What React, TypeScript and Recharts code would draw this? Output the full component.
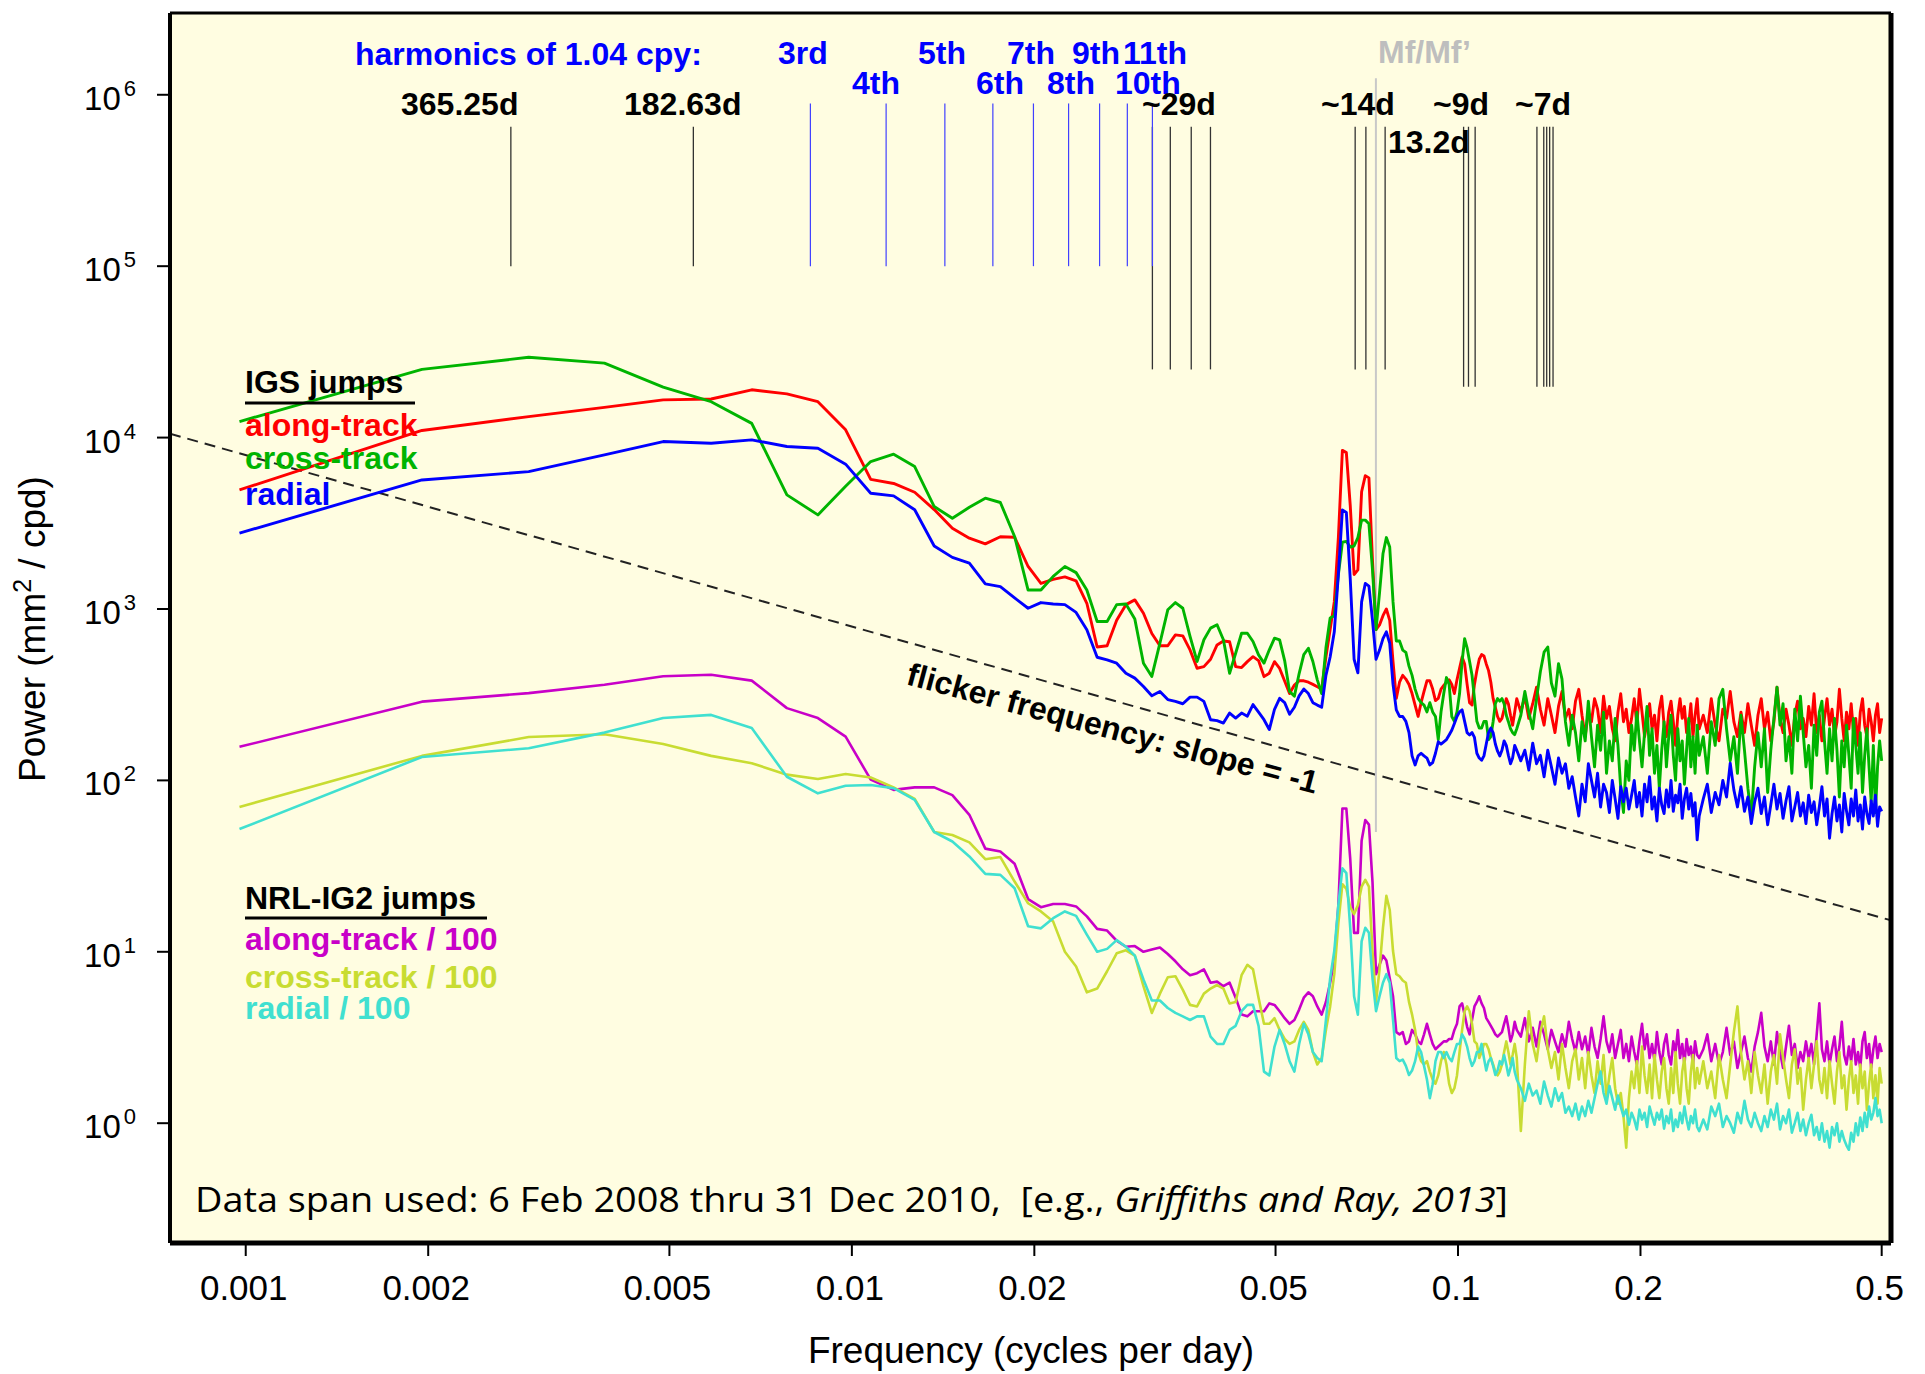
import { LineChart, Line, XAxis, YAxis, CartesianGrid, ReferenceLine } from "recharts";

const W = 1925;
const H = 1374;
const FONT = "'Liberation Sans', Arial, Helvetica, sans-serif";

// periodogram bins, f = k / 1024 cpd: every bin to 128, every 2nd to 256, every 4th to 512
const BINS: number[] = [];
for (let k = 1; k <= 128; k++) BINS.push(k);
for (let k = 130; k <= 256; k += 2) BINS.push(k);
for (let k = 260; k <= 512; k += 4) BINS.push(k);

// IGS jumps (mm^2/cpd)
const ALONG_IGS = [
  4950, 11000, 13250, 15000, 16600, 16800, 19000, 18000, 16200, 11100, 5700, 5400, 4800, 3800, 2960, 2590,
  2400, 2640, 2620, 1770, 1410, 1490, 1540, 1460, 1080, 600, 610, 860, 1060, 1130, 944, 720,
  610, 610, 706, 697, 577, 451, 461, 509, 617, 650, 644, 461, 455, 493, 527, 500,
  403, 422, 493, 450, 380, 321, 360, 381, 381, 374, 363, 352, 341, 525, 759, 1100,
  2610, 8420, 8170, 4020, 1590, 1690, 4830, 6000, 5820, 1910, 759, 807, 914, 1000, 859, 493,
  301, 374, 410, 390, 363, 321, 275, 236, 284, 331, 381, 381, 341, 292, 301, 341,
  358, 374, 386, 363, 321, 386, 450, 525, 478, 363, 284, 275, 363, 437, 509, 542,
  532, 478, 437, 374, 301, 267, 236, 221, 230, 260, 300, 280, 240, 210, 250, 300,
  250, 310, 230, 280, 350, 260, 210, 300, 240, 190, 270, 330, 230, 260, 200, 290,
  340, 240, 180, 250, 220, 300, 260, 190, 310, 230, 270, 200, 170, 250, 320, 220,
  260, 190, 230, 300, 210, 340, 250, 180, 220, 280, 200, 240, 170, 260, 310, 210,
  180, 250, 290, 220, 160, 240, 300, 230, 270, 190, 210, 280, 180, 240, 300, 200,
  240, 190, 300, 210, 170, 260, 230, 330, 220, 180, 250, 190, 280, 210, 160, 240,
  300, 200, 250, 170, 220, 350, 230, 190, 260, 210, 160, 240, 290, 200, 230, 180,
  270, 210, 320, 190, 240, 170, 230, 300, 210, 260, 180, 220, 340, 230, 170, 250,
  200, 280, 190, 230, 160, 250, 300, 210, 180, 260, 220, 170, 240, 280, 190, 230,
];
const CROSS_IGS = [
  12400, 25000, 29400, 27200, 19700, 16200, 12100, 4630, 3540, 5200, 7250, 8000, 6780, 3960, 3380, 3920,
  4430, 4180, 2650, 1290, 1290, 1550, 1770, 1630, 1290, 846, 846, 1060, 1070, 873, 483, 404,
  632, 989, 1090, 1010, 692, 494, 661, 773, 809, 661, 422, 552, 722, 722, 646, 540,
  483, 578, 676, 660, 500, 330, 310, 420, 542, 590, 494, 386, 321, 594, 887, 914,
  1590, 2450, 2480, 2300, 2330, 2610, 3300, 3300, 3140, 1690, 759, 1240, 2100, 2610, 2300, 1100,
  651, 651, 576, 558, 464, 410, 341, 301, 284, 275, 251, 284, 251, 236, 173, 251,
  321, 398, 363, 236, 221, 251, 321, 494, 671, 594, 494, 410, 301, 221, 202, 202,
  221, 221, 173, 180, 220, 280, 300, 290, 300, 280, 240, 220, 200, 190, 185, 200,
  240, 330, 250, 200, 300, 430, 560, 600, 370, 310, 480, 390, 220, 160, 240, 190,
  130, 220, 170, 290, 180, 120, 210, 150, 250, 110, 170, 130, 230, 160, 90, 65,
  130, 100, 210, 150, 250, 170, 120, 190, 270, 140, 200, 110, 160, 90, 150, 220,
  120, 180, 240, 140, 100, 200, 130, 170, 95, 150, 230, 120, 180, 110, 210, 140,
  180, 110, 220, 160, 300, 340, 200, 130, 180, 110, 240, 150, 90, 62, 120, 190,
  120, 200, 85, 150, 230, 350, 210, 280, 130, 180, 110, 260, 170, 310, 190, 120,
  160, 90, 210, 140, 250, 290, 170, 110, 200, 130, 230, 150, 80, 170, 120, 210,
  140, 90, 230, 160, 110, 190, 85, 140, 200, 120, 75, 160, 65, 120, 170, 130,
];
const RADIAL_IGS = [
  2770, 5660, 6330, 7920, 9480, 9270, 9700, 8870, 8670, 7000, 4730, 4570, 3790, 2330, 2000, 1850,
  1400, 1350, 1160, 1010, 1090, 1070, 1060, 955, 756, 523, 505, 483, 422, 395, 353, 312,
  330, 296, 289, 280, 306, 306, 289, 226, 223, 216, 247, 231, 247, 237, 277, 250,
  226, 198, 260, 301, 284, 243, 267, 311, 341, 321, 284, 275, 267, 410, 525, 736,
  1590, 3780, 3660, 1500, 509, 424, 1100, 1410, 1360, 859, 509, 576, 671, 736, 631, 363,
  258, 236, 236, 221, 190, 139, 123, 139, 144, 139, 135, 123, 127, 144, 168, 163,
  168, 173, 184, 196, 215, 236, 251, 258, 221, 190, 184, 190, 178, 144, 135, 131,
  139, 163, 190, 202, 190, 163, 148, 139, 150, 170, 160, 140, 125, 135, 160, 150,
  130, 150, 115, 165, 125, 140, 105, 150, 120, 95, 135, 110, 125, 90, 105, 80,
  62, 95, 75, 125, 100, 80, 110, 70, 95, 85, 65, 100, 78, 60, 92, 75,
  90, 68, 82, 100, 70, 85, 62, 95, 75, 105, 68, 80, 58, 90, 72, 64,
  88, 70, 100, 66, 82, 74, 95, 60, 78, 90, 68, 84, 62, 74, 45, 62,
  78, 95, 65, 85, 72, 100, 80, 126, 88, 70, 92, 66, 80, 56, 75, 90,
  64, 80, 55, 72, 95, 68, 84, 60, 76, 92, 58, 70, 85, 62, 74, 56,
  82, 65, 75, 55, 70, 92, 62, 78, 46, 64, 80, 58, 72, 50, 84, 66,
  55, 78, 62, 88, 58, 72, 52, 80, 64, 56, 76, 62, 82, 54, 70, 66,
];

// NRL-IG2 jumps, already divided by 100
const ALONG_NRL = [
  157, 288, 323, 361, 405, 413, 382, 264, 231, 180, 101, 88, 91, 91, 82, 63,
  40, 38.5, 32.6, 20.3, 18.2, 19, 19, 18.4, 16.1, 13.6, 13.3, 11.6, 10.7, 10.8, 10, 10.3,
  10.6, 9.7, 8.8, 7.9, 7.3, 7.5, 7.9, 6.6, 6.7, 6.3, 6.6, 5.4, 4.3, 4.2, 4.5, 4.5,
  4.5, 5, 4.9, 4.5, 4.1, 3.8, 4, 4.6, 5.4, 5.8, 5.5, 4.8, 4.3, 5.1, 6.6, 8.9,
  18.7, 68.5, 68.5, 34.8, 12.9, 12.9, 44.5, 58.7, 55.2, 25.5, 7.4, 8.4, 9.5, 8.9, 7, 5.5,
  3.4, 3.3, 3.4, 2.9, 3, 3.5, 3.3, 3, 2.9, 3.3, 3.8, 3.3, 2.9, 2.7, 2.8, 2.9,
  3, 3, 3.1, 3.1, 3.5, 3.8, 4.8, 5, 4.3, 3.65, 3.3, 4, 4.8, 5.1, 5.5, 5,
  4.7, 4.1, 3.9, 3.7, 3.5, 3.3, 3.2, 3.3, 3.4, 3.8, 4.2, 3.6, 3, 3.3, 3.9, 3.5,
  3.2, 4.1, 3.0, 3.6, 2.8, 3.9, 3.3, 2.7, 3.5, 3.0, 2.6, 3.3, 2.8, 3.9, 3.1, 2.6,
  3.4, 2.7, 3.2, 2.5, 3.6, 2.8, 2.4, 3.1, 4.2, 3.0, 2.6, 3.3, 2.4, 2.9, 3.5, 2.4,
  2.9, 2.3, 3.2, 2.6, 2.2, 3.0, 3.8, 2.7, 3.3, 2.4, 2.9, 2.3, 3.4, 2.6, 2.2, 2.9,
  3.3, 2.5, 2.2, 3.0, 2.6, 3.5, 2.4, 2.9, 2.2, 3.1, 2.5, 2.8, 2.2, 3.0, 2.5, 2.4,
  2.7, 3.3, 2.3, 2.9, 2.2, 2.6, 3.6, 2.5, 3.0, 2.1, 2.6, 3.2, 2.4, 2.0, 2.8, 3.4,
  4.4, 2.8, 2.3, 3.0, 2.2, 3.4, 2.6, 2.1, 2.8, 3.7, 2.5, 2.9, 2.1, 2.6, 2.3, 3.0,
  2.4, 2.9, 2.2, 3.3, 5.0, 2.7, 2.3, 3.0, 2.2, 2.7, 3.2, 2.3, 2.8, 3.9, 2.5, 2.2,
  2.8, 2.3, 3.1, 2.2, 2.6, 2.1, 3.0, 3.4, 2.4, 2.9, 2.1, 2.7, 3.2, 2.4, 2.9, 2.6,
];
const CROSS_NRL = [
  70, 139, 179, 186, 163, 139, 126, 108, 102, 109, 104, 91, 78, 50, 48, 43.5,
  34.7, 35.7, 25.7, 19.2, 17.2, 15, 10, 8.2, 5.8, 6.1, 7.7, 9.8, 10.2, 9.5, 6.3, 4.4,
  5.7, 7.1, 7.2, 6, 4.9, 4.8, 5.7, 6.1, 6.4, 6.1, 5, 5.1, 7.3, 8.4, 7.9, 5.4,
  3.8, 3.8, 4.1, 3.5, 3.1, 2.9, 3, 3.5, 3.9, 3.5, 2.6, 2.2, 2.4, 3.5, 4.8, 7.4,
  14.7, 24.8, 23.3, 18.2, 16.6, 18.7, 24, 26.3, 24, 10.1, 5.1, 7.9, 13.8, 21.2, 17.6, 10.1,
  7.4, 7.2, 6.8, 6.6, 5.1, 4.3, 3.5, 2.6, 2.3, 2.2, 2.3, 2, 1.8, 1.7, 1.9, 2.3,
  2.6, 2.2, 1.7, 1.5, 1.6, 1.9, 2.6, 3.5, 4.5, 4.8, 4.5, 3.8, 3, 2.9, 2.4, 2.6,
  2.9, 2.9, 2.7, 2.4, 2.2, 2, 1.9, 2, 2.2, 2.6, 3, 2.6, 2.2, 2.5, 2.9, 2.4,
  0.9, 2.2, 4.5, 2.9, 2.3, 3.4, 4.2, 2.7, 2.1, 2.6, 1.8, 2.9, 2.1, 1.6, 2.3, 2.7,
  1.8, 2.4, 1.6, 2.6, 1.9, 1.5, 2.3, 1.7, 2.5, 1.4, 1.9, 2.4, 1.6, 1.3, 1.5, 1.1,
  0.72, 1.4, 2.0, 1.6, 2.3, 1.5, 2.8, 1.9, 1.5, 2.2, 1.4, 2.5, 1.8, 1.4, 2.0, 2.4,
  1.6, 1.3, 2.1, 1.5, 2.6, 1.7, 1.3, 2.0, 2.4, 1.6, 1.3, 2.0, 2.5, 1.6, 2.1, 1.7,
  2.3, 1.6, 2.0, 1.4, 2.5, 1.8, 1.4, 2.2, 3.4, 4.8, 2.6, 1.8, 2.3, 1.5, 2.6, 1.9,
  1.5, 2.2, 1.3, 2.0, 2.5, 1.7, 3.3, 2.4, 1.8, 1.4, 2.2, 2.7, 1.7, 2.1, 1.2, 1.8,
  2.4, 1.6, 2.2, 3.0, 1.8, 1.5, 2.1, 1.4, 2.3, 1.7, 1.3, 2.0, 2.6, 1.6, 1.9, 1.2,
  1.8, 2.3, 1.5, 1.9, 1.3, 2.2, 1.6, 2.0, 1.2, 1.7, 2.2, 1.4, 1.9, 1.3, 2.1, 1.7,
];
const RADIAL_NRL = [
  52, 137, 154, 190, 231, 241, 202, 105, 84, 93, 94, 90, 77, 50, 44, 36,
  28.5, 28.1, 23.5, 14.1, 13.7, 15.7, 17.2, 16.2, 12.6, 10, 10.4, 11.7, 10.7, 9.5, 6.9, 5.2,
  5.2, 4.7, 4.4, 4.2, 4, 4.2, 4.2, 3.2, 2.9, 2.9, 3.5, 3.7, 4.5, 4.9, 4.9, 3.7,
  2, 1.9, 2.8, 3.5, 2.9, 2.3, 2, 2.9, 3.8, 3.3, 2.6, 2.4, 2.3, 4, 7, 10.1,
  18.7, 30.7, 28.8, 13.8, 5.5, 4.3, 11.5, 13.8, 12.9, 7, 4.5, 5.5, 6.6, 7.4, 6.6, 4,
  2.4, 2.3, 2.35, 2.16, 1.91, 2.03, 2.3, 2.8, 2.6, 2.16, 1.8, 1.4, 1.69, 2.3, 2.6, 2.6,
  2.4, 2.6, 2.4, 2.3, 2.6, 2.9, 2.9, 3.3, 3.1, 2.8, 2.4, 2.16, 2.3, 2.6, 2.6, 2.9,
  2.4, 2.03, 2.3, 2.4, 2.16, 1.91, 2.03, 2.3, 2.2, 2.5, 2.2, 1.9, 2.1, 2.4, 2, 1.8,
  1.6, 1.35, 1.7, 1.45, 1.55, 1.3, 1.75, 1.45, 1.25, 1.6, 1.35, 1.5, 1.15, 1.25, 1.1, 1.3,
  1.05, 1.25, 1.1, 1.35, 1.15, 1.4, 1.7, 2.0, 1.5, 1.3, 1.65, 1.4, 1.2, 1.45, 1.25, 1.1,
  1.2, 0.98, 1.15, 1.05, 0.92, 1.2, 1.05, 1.15, 0.95, 1.25, 1.1, 0.98, 1.15, 1.05, 1.2, 0.93,
  1.1, 1.0, 1.2, 0.9, 1.05, 0.95, 1.15, 1.0, 1.25, 1.05, 0.92, 1.1, 1.0, 1.2, 0.95, 0.9,
  1.05, 0.92, 1.25, 1.1, 1.3, 0.95, 1.1, 1.0, 0.88, 1.15, 1.0, 1.35, 1.05, 0.95, 1.15, 1.0,
  0.9, 1.1, 0.95, 1.2, 1.05, 1.3, 0.92, 1.1, 1.0, 1.2, 0.88, 1.0, 1.15, 0.9, 1.05, 0.85,
  1.0, 1.12, 0.85, 0.95, 0.8, 1.0, 0.78, 0.9, 0.72, 0.95, 0.85, 1.0, 0.78, 0.9, 0.8, 0.74,
  0.7, 0.88, 0.78, 1.0, 0.85, 1.08, 0.9, 1.15, 0.95, 1.25, 1.05, 1.15, 1.4, 1.1, 1.2, 1.0,
];

const X_TICKS = [0.001, 0.002, 0.005, 0.01, 0.02, 0.05, 0.1, 0.2, 0.5];
const Y_MAJOR = [1, 10, 100, 1e3, 1e4, 1e5, 1e6];
const Y_MINOR = [
  0.3, 0.4, 0.5, 0.6, 0.7, 0.8, 0.9, 2, 3, 4, 5, 6, 7, 8, 9, 20, 30, 40, 50, 60, 70, 80, 90,
  200, 300, 400, 500, 600, 700, 800, 900, 2e3, 3e3, 4e3, 5e3, 6e3, 7e3, 8e3, 9e3,
  2e4, 3e4, 4e4, 5e4, 6e4, 7e4, 8e4, 9e4, 2e5, 3e5, 4e5, 5e5, 6e5, 7e5, 8e5, 9e5, 2e6,
];

// marker periods (days)
const SOLAR_PERIODS = [365.25, 182.63];
const HARMONICS = [3, 4, 5, 6, 7, 8, 9, 10, 11]; // of 1.04 cpy
const DRACONITIC_CPY = 1.04;
const LUNAR_29 = [31.93, 29.83, 27.55, 25.61];
const LUNAR_14 = [14.78, 14.19, 13.19];
const LUNAR_9 = [9.79, 9.61, 9.37];
const LUNAR_7 = [7.41, 7.22, 7.14, 7.06, 6.97];
const MF_PERIOD = 13.66;
const FLICKER_LEVEL = 7.9; // P = 7.9 / f

const DATA = BINS.map((k, i) => ({
  f: k / 1024,
  along: ALONG_IGS[i],
  cross: CROSS_IGS[i],
  radial: RADIAL_IGS[i],
  along2: ALONG_NRL[i],
  cross2: CROSS_NRL[i],
  radial2: RADIAL_NRL[i],
}));

const X_DOMAIN = [0.00075, 0.518];
const Y_DOMAIN = [0.2, 3e6];

const PowerTick = (props: any) => {
  const { x, y, payload } = props;
  const exp = Math.round(Math.log10(payload.value));
  return (
    <text x={x - 19} y={y + 15} textAnchor="end" fontFamily={FONT} fontSize={33} fill="#000">
      10
      <tspan dx={3} dy={-14} fontSize={22}>
        {exp}
      </tspan>
    </text>
  );
};

const FreqTick = (props: any) => {
  const { x, y, payload } = props;
  return (
    <text x={x - 2} y={y + 42} textAnchor="middle" fontFamily={FONT} fontSize={35} fill="#000">
      {String(payload.value)}
    </text>
  );
};

const seg = (f: number, lo: number, hi: number) => [
  { x: f, y: lo },
  { x: f, y: hi },
];

const Label = ({ x, y, color = "#000", children }: any) => (
  <text x={x} y={y} fontFamily={FONT} fontWeight="bold" fontSize={32} fill={color}>
    {children}
  </text>
);

const App = () => {
  const lineProps = {
    xAxisId: "f",
    yAxisId: "p",
    type: "linear" as const,
    dot: false,
    activeDot: false,
    isAnimationActive: false,
    strokeLinejoin: "round" as const,
  };
  const refProps = { xAxisId: "f", yAxisId: "p", ifOverflow: "hidden" as const };
  return (
    <div style={{ position: "absolute", left: 0, top: 0, width: W, height: H, background: "#fff" }}>
      <LineChart width={W} height={H} data={DATA} margin={{ top: 12, right: 32, bottom: 130, left: 168 }}>
        <CartesianGrid xAxisId="f" yAxisId="p" horizontal={false} vertical={false} fill="#FFFDE1" fillOpacity={1} />
        <XAxis
          xAxisId="f"
          dataKey="f"
          type="number"
          scale="log"
          domain={X_DOMAIN}
          allowDataOverflow
          ticks={X_TICKS}
          interval={0}
          height={1}
          tickSize={13}
          tick={FreqTick}
          tickLine={{ stroke: "#000", strokeWidth: 2 }}
          axisLine={{ stroke: "#000", strokeWidth: 5 }}
        />
        <XAxis
          xAxisId="top"
          orientation="top"
          dataKey="f"
          type="number"
          scale="log"
          domain={X_DOMAIN}
          allowDataOverflow
          ticks={X_TICKS}
          interval={0}
          height={1}
          tickSize={13}
          tick={false}
          tickLine={{ stroke: "#000", strokeWidth: 2 }}
          axisLine={{ stroke: "#000", strokeWidth: 3 }}
        />
        <YAxis
          yAxisId="p"
          type="number"
          scale="log"
          domain={Y_DOMAIN}
          allowDataOverflow
          ticks={Y_MAJOR}
          interval={0}
          width={1}
          tickSize={13}
          tick={PowerTick}
          tickLine={{ stroke: "#000", strokeWidth: 2 }}
          axisLine={{ stroke: "#000", strokeWidth: 4 }}
        />
        <YAxis
          yAxisId="pMinor"
          type="number"
          scale="log"
          domain={Y_DOMAIN}
          allowDataOverflow
          ticks={Y_MINOR}
          interval={0}
          width={1}
          tickSize={7}
          tick={false}
          tickLine={{ stroke: "#000", strokeWidth: 1.5 }}
          axisLine={false}
        />
        <YAxis
          yAxisId="pRight"
          orientation="right"
          type="number"
          scale="log"
          domain={Y_DOMAIN}
          allowDataOverflow
          ticks={Y_MAJOR}
          interval={0}
          width={1}
          tickSize={16}
          tick={false}
          tickLine={{ stroke: "#000", strokeWidth: 2 }}
          axisLine={{ stroke: "#000", strokeWidth: 5 }}
        />
        <YAxis
          yAxisId="pRightMinor"
          orientation="right"
          type="number"
          scale="log"
          domain={Y_DOMAIN}
          allowDataOverflow
          ticks={Y_MINOR}
          interval={0}
          width={1}
          tickSize={9}
          tick={false}
          tickLine={{ stroke: "#000", strokeWidth: 1.5 }}
          axisLine={false}
        />

        <ReferenceLine
          {...refProps}
          segment={[
            { x: X_DOMAIN[0], y: FLICKER_LEVEL / X_DOMAIN[0] },
            { x: X_DOMAIN[1], y: FLICKER_LEVEL / X_DOMAIN[1] },
          ]}
          stroke="#222"
          strokeWidth={2}
          strokeDasharray="11 7"
        />
        <ReferenceLine {...refProps} segment={seg(1 / MF_PERIOD, 50, 1.25e6)} stroke="#C8C8C8" strokeWidth={2} />
        {SOLAR_PERIODS.map((p) => (
          <ReferenceLine key={"s" + p} {...refProps} segment={seg(1 / p, 1e5, 6.5e5)} stroke="#222" strokeWidth={1.2} />
        ))}
        {[...LUNAR_29, ...LUNAR_14].map((p) => (
          <ReferenceLine key={"l" + p} {...refProps} segment={seg(1 / p, 2.5e4, 6.5e5)} stroke="#333" strokeWidth={1.3} />
        ))}
        {[...LUNAR_9, ...LUNAR_7].map((p) => (
          <ReferenceLine key={"m" + p} {...refProps} segment={seg(1 / p, 1.98e4, 6.5e5)} stroke="#333" strokeWidth={1.3} />
        ))}
        {HARMONICS.map((n) => (
          <ReferenceLine
            key={"h" + n}
            {...refProps}
            segment={seg((n * DRACONITIC_CPY) / 365.25, 1e5, 8.9e5)}
            stroke="#4040FF"
            strokeWidth={1.2}
          />
        ))}

        <Line {...lineProps} dataKey="along" stroke="#FF0000" strokeWidth={2.9} />
        <Line {...lineProps} dataKey="cross" stroke="#00B400" strokeWidth={2.9} />
        <Line {...lineProps} dataKey="radial" stroke="#0000FF" strokeWidth={2.9} />
        <Line {...lineProps} dataKey="along2" stroke="#C800C8" strokeWidth={2.6} />
        <Line {...lineProps} dataKey="cross2" stroke="#C8DC32" strokeWidth={2.6} />
        <Line {...lineProps} dataKey="radial2" stroke="#40E0D0" strokeWidth={2.6} />
      </LineChart>

      <svg width={W} height={H} style={{ position: "absolute", left: 0, top: 0, pointerEvents: "none" }}>
        <Label x={355} y={65} color="#0000FF">harmonics of 1.04 cpy:</Label>
        <Label x={778} y={64} color="#0000FF">3rd</Label>
        <Label x={918} y={64} color="#0000FF">5th</Label>
        <Label x={1007} y={64} color="#0000FF">7th</Label>
        <Label x={1072} y={64} color="#0000FF">9th</Label>
        <Label x={1123} y={64} color="#0000FF">11th</Label>
        <Label x={852} y={94} color="#0000FF">4th</Label>
        <Label x={976} y={94} color="#0000FF">6th</Label>
        <Label x={1047} y={94} color="#0000FF">8th</Label>
        <Label x={1115} y={94} color="#0000FF">10th</Label>
        <Label x={401} y={115}>365.25d</Label>
        <Label x={624} y={115}>182.63d</Label>
        <Label x={1142} y={115}>~29d</Label>
        <Label x={1321} y={115}>~14d</Label>
        <Label x={1388} y={153}>13.2d</Label>
        <Label x={1433} y={115}>~9d</Label>
        <Label x={1515} y={115}>~7d</Label>
        <Label x={1378} y={63} color="#BEBEBE">Mf/Mf’</Label>

        <Label x={245} y={393}>IGS jumps</Label>
        <line x1={245} x2={415} y1={403} y2={403} stroke="#000" strokeWidth={3} />
        <Label x={245} y={436} color="#FF0000">along-track</Label>
        <Label x={245} y={469} color="#00B400">cross-track</Label>
        <Label x={245} y={505} color="#0000FF">radial</Label>

        <Label x={245} y={909}>NRL-IG2 jumps</Label>
        <line x1={245} x2={487} y1={918} y2={918} stroke="#000" strokeWidth={3} />
        <Label x={245} y={950} color="#C800C8">along-track / 100</Label>
        <Label x={245} y={988} color="#C8DC32">cross-track / 100</Label>
        <Label x={245} y={1019} color="#40E0D0">radial / 100</Label>

        <text
          x={905}
          y={684}
          transform="rotate(15 905 684)"
          fontFamily={FONT}
          fontWeight="bold"
          fontSize={32}
          fill="#000"
        >
          flicker frequency: slope = -1
        </text>

        <text
          x={195}
          y={1212}
          fontFamily="'Open Sans', 'Noto Sans', sans-serif"
          fontSize={34}
          fill="#000"
          textLength={1313}
          lengthAdjust="spacingAndGlyphs"
          style={{ whiteSpace: "pre" }}
        >
          {"Data span used: 6 Feb 2008 thru 31 Dec 2010,  [e.g., "}
          <tspan fontStyle="italic">Griffiths and Ray, 2013</tspan>]
        </text>

        <text transform="translate(45,629) rotate(-90)" textAnchor="middle" fontFamily={FONT} fontSize={37} fill="#000">
          Power (mm
          <tspan dy={-14} fontSize={25}>
            2
          </tspan>
          <tspan dy={14}> / cpd)</tspan>
        </text>
        <text x={1031} y={1363} textAnchor="middle" fontFamily={FONT} fontSize={37} fill="#000">
          Frequency (cycles per day)
        </text>
      </svg>
    </div>
  );
};

export default App;
